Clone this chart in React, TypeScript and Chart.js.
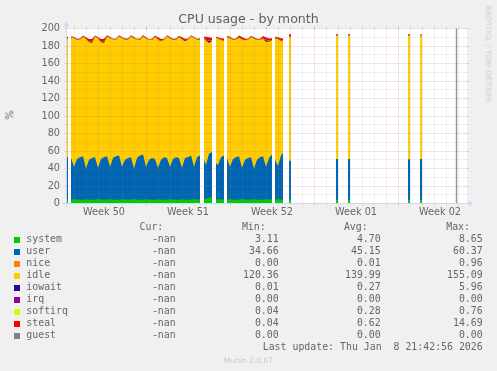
import React, { useEffect, useRef } from 'react';
import { Chart, registerables } from 'chart.js';

Chart.register(...registerables);

// ---------------- data (hours from left edge of the 33-day window; null = no data) ----------------
const HOURS: number[] = [
  0, 2, 5,
  8, 14, 20, 26, 32, 38, 44, 50, 56, 62, 68, 74, 80, 86, 92, 98, 104, 110, 116, 122, 128, 134, 140, 146,
  152, 158, 164, 170, 176, 182, 188, 194, 200, 206, 212, 218, 224, 230, 236, 242, 248, 254, 260, 266, 270,
  274, 278, 284, 290, 294,
  298, 302, 308, 314, 317,
  320, 326, 332, 338, 344, 350, 356, 362, 368, 374, 380, 386, 392, 398, 404, 410, 413,
  416, 422, 428, 432, 439,
  444, 448, 490,
  538, 542, 553,
  562, 566, 620,
  682, 686, 697,
  706, 710,
];

const SYSTEM: (number | null)[] = [
  4.2, 4.2, null,
  4.5, 4.8, 4.6, 4.3, 4.4, 5.0, 4.7, 4.3, 4.5, 5.1, 4.6, 4.4, 4.5, 4.9, 4.6, 4.3, 4.4, 5.0, 4.7, 4.4,
  4.5, 5.2, 4.6, 4.3, 4.5, 4.9, 4.6, 4.4, 4.3, 5.0, 4.6, 4.4, 4.5, 4.8, 4.5, 4.3, 4.4, 5.0, 4.6, 4.4,
  4.5, 4.9, 4.7, 4.6, null,
  4.8, 5.5, 6.5, 7.0, null,
  4.6, 4.8, 4.5, 4.4, null,
  4.5, 5.0, 4.6, 4.4, 4.5, 5.1, 4.7, 4.4, 4.5, 5.0, 4.6, 4.4, 4.5, 4.9, 4.6, 4.7, null,
  4.6, 5.0, 4.6, 4.5, null,
  4.2, 4.2, null,
  4.0, 4.0, null,
  4.1, 4.1, null,
  4.0, 4.0, null,
  4.1, 4.1,
];

const USER: (number | null)[] = [
  48.8, 48.8, null,
  47.5, 37.2, 46.4, 48.7, 49.6, 35.0, 45.3, 47.7, 48.5, 35.9, 46.4, 48.6, 49.5, 37.1, 47.4, 49.7, 50.6, 37.0,
  45.3, 47.6, 48.5, 34.8, 47.4, 50.7, 51.5, 37.1, 45.4, 47.6, 46.7, 36.0, 45.4, 48.6, 47.5, 37.2, 46.5, 48.7,
  47.6, 36.0, 47.4, 48.6, 50.5, 37.1, 48.3, 50.4, null,
  45.2, 38.5, 50.5, 52.0, null,
  41.4, 39.2, 48.5, 50.6, null,
  47.5, 37.0, 46.4, 48.6, 49.5, 35.9, 45.3, 47.6, 48.5, 35.0, 45.4, 48.6, 49.5, 37.1, 47.4, 51.3, null,
  45.4, 38.0, 50.4, 53.5, null,
  44.8, 44.8, null,
  47.0, 47.0, null,
  46.9, 46.9, null,
  46.5, 46.5, null,
  46.9, 46.9,
];

const IDLE: (number | null)[] = [
  134.9, 134.9, null,
  137.5, 147.2, 136.1, 134.3, 136.6, 148.2, 134.2, 131.7, 137.8, 148.0, 133.4, 130.7, 136.9, 147.2, 135.3,
  133.5, 135.9, 147.1, 137.2, 135.4, 137.9, 148.9, 135.3, 132.2, 135.0, 146.7, 136.8, 135.0, 139.5, 146.4,
  135.4, 134.1, 138.8, 146.9, 136.0, 134.2, 138.3, 146.4, 133.8, 134.4, 135.8, 147.1, 134.2, 132.5, null,
  138.8, 142.1, 126.6, 126.6, null,
  143.2, 144.5, 134.0, 131.0, null,
  138.1, 147.2, 136.1, 134.3, 135.4, 146.4, 136.5, 135.2, 137.4, 148.7, 137.0, 134.2, 134.2, 142.9, 133.1, 130.4, null,
  138.9, 145.1, 130.9, 128.2, null,
  141.2, 141.2, null,
  140.8, 140.8, null,
  140.6, 140.6, null,
  141.2, 141.2, null,
  140.6, 140.6,
];

const IOWAIT: (number | null)[] = [
  0.3, 0.3, null,
  0.2, 0.2, 0.2, 0.2, 0.2, 0.3, 0.3, 1.5, 0.2, 0.2, 0.3, 1.5, 0.2, 0.2, 0.2, 0.2, 0.2, 0.2, 0.2, 0.2,
  0.2, 0.2, 0.2, 0.2, 0.2, 0.2, 0.2, 0.2, 0.2, 0.3, 0.3, 0.2, 0.2, 0.2, 0.2, 0.2, 0.2, 0.3, 1.0, 0.2,
  0.2, 0.2, 0.2, 0.2, null,
  0.3, 0.5, 2.0, 0.5, null,
  0.2, 0.2, 0.2, 0.2, null,
  0.2, 0.2, 0.2, 0.2, 0.3, 0.3, 0.2, 0.2, 0.2, 0.2, 0.2, 0.2, 0.5, 1.8, 0.6, 0.3, null,
  0.3, 0.4, 0.8, 0.5, null,
  0.5, 0.5, null,
  0.2, 0.2, null,
  0.2, 0.2, null,
  0.2, 0.2, null,
  0.2, 0.2,
];

const SOFTIRQ: (number | null)[] = [
  0.3, 0.3, null,
  0.3, 0.3, 0.2, 0.3, 0.4, 0.3, 0.3, 0.3, 0.2, 0.3, 0.3, 0.4, 0.3, 0.3, 0.2, 0.3, 0.3, 0.3, 0.4, 0.3,
  0.3, 0.3, 0.2, 0.3, 0.3, 0.3, 0.4, 0.3, 0.3, 0.3, 0.2, 0.3, 0.3, 0.3, 0.3, 0.4, 0.3, 0.3, 0.2, 0.3,
  0.3, 0.3, 0.3, 0.4, null,
  0.4, 0.4, 0.4, 0.4, null,
  0.3, 0.3, 0.3, 0.3, null,
  0.3, 0.3, 0.2, 0.3, 0.3, 0.4, 0.3, 0.3, 0.3, 0.2, 0.3, 0.3, 0.3, 0.4, 0.3, 0.3, null,
  0.3, 0.3, 0.3, 0.3, null,
  0.3, 0.3, null,
  0.3, 0.3, null,
  0.3, 0.3, null,
  0.3, 0.3, null,
  0.3, 0.3,
];

const STEAL: (number | null)[] = [
  2.0, 2.0, null,
  1.0, 0.8, 0.7, 0.7, 0.9, 1.2, 3.2, 2.5, 0.9, 0.8, 3.0, 2.8, 0.9, 0.8, 0.7, 0.7, 1.0, 0.8, 0.7, 0.7,
  0.9, 0.8, 0.7, 0.8, 1.0, 0.8, 0.7, 0.7, 1.0, 2.0, 2.0, 0.7, 0.9, 0.8, 0.7, 0.7, 1.0, 2.0, 1.2, 0.7,
  0.9, 0.8, 0.7, 0.8, null,
  1.5, 3.5, 4.0, 3.0, null,
  0.8, 1.0, 1.5, 2.0, null,
  0.9, 0.8, 0.7, 0.7, 2.0, 2.2, 1.5, 0.7, 0.9, 0.8, 0.7, 0.7, 2.5, 3.0, 2.5, 2.0, null,
  1.0, 1.2, 2.0, 1.5, null,
  2.5, 2.5, null,
  1.2, 1.2, null,
  1.2, 1.2, null,
  1.3, 1.3, null,
  1.1, 1.1,
];

// legend table
const SERIES_NAMES = ['system', 'user', 'nice', 'idle', 'iowait', 'irq', 'softirq', 'steal', 'guest'];
const SERIES_COLORS = ['#00CC00', '#0066B3', '#FF8000', '#FFCC00', '#330099', '#990099', '#CCFF00', '#FF0000', '#808080'];
const CUR = ['-nan', '-nan', '-nan', '-nan', '-nan', '-nan', '-nan', '-nan', '-nan'];
const MIN = ['3.11', '34.66', '0.00', '120.36', '0.01', '0.00', '0.04', '0.04', '0.00'];
const AVG = ['4.70', '45.15', '0.01', '139.99', '0.27', '0.00', '0.28', '0.62', '0.00'];
const MAX = ['8.65', '60.37', '0.96', '155.09', '5.96', '0.00', '0.76', '14.69', '0.00'];

// axes
const WEEK_TICK_HOURS = [74, 242, 410, 578, 746];
const WEEK_LABELS = ['Week 50', 'Week 51', 'Week 52', 'Week 01', 'Week 02'];
const X_MAX_HOURS = 800;
const DAY_GRID_START = 14;
const DAY_HOURS = 24;
const WEEK_GRID_START = 158;
const WEEK_HOURS = 168;
const NOW_MARK_HOUR = 779.4;
const Y_MAX = 200;
const Y_GRID_STEP = 10;
const Y_LABEL_STEP = 20;

const TITLE = 'CPU usage - by month';
const Y_TITLE = '%';
const LAST_UPDATE = 'Last update: Thu Jan  8 21:42:56 2026';
const VERSION = 'Munin 2.0.67';
const WATERMARK = 'RRDTOOL / TOBI OETIKER';

// ---------------- drawing ----------------
const W = 497;
const H = 371;
const MINOR_GRID = 'rgba(143,143,143,0.26)';
const MAJOR_GRID = 'rgba(222,79,79,0.32)';
const AXIS_COLOR = '#CFD6F8';
const FONT = "'DejaVu Sans', sans-serif";
const MONO = "'DejaVu Sans Mono', monospace";
const TEXT = '#666666';

function seg(ctx: CanvasRenderingContext2D, x1: number, y1: number, x2: number, y2: number) {
  ctx.beginPath();
  ctx.moveTo(x1, y1);
  ctx.lineTo(x2, y2);
  ctx.stroke();
}

const muninPlugin = {
  id: 'muninDecor',
  beforeDraw(chart: any) {
    const { ctx, chartArea: a } = chart;
    ctx.save();
    ctx.fillStyle = '#FFFFFF';
    ctx.fillRect(a.left, a.top, a.right - a.left, a.bottom - a.top);
    ctx.restore();
  },
  afterDatasetsDraw(chart: any) {
    const { ctx, chartArea: a, scales } = chart;
    const xs = scales.x;
    const ys = scales.y;
    const L = a.left - 0.5;
    const R = a.right - 0.5;
    const T = a.top;
    const B = a.bottom;
    ctx.save();
    ctx.lineWidth = 1;
    // horizontal grid
    for (let v = Y_GRID_STEP; v <= Y_MAX; v += Y_GRID_STEP) {
      const py = Math.round(ys.getPixelForValue(v) - 0.5) + 0.5;
      ctx.strokeStyle = v % Y_LABEL_STEP === 0 ? MAJOR_GRID : MINOR_GRID;
      ctx.setLineDash([]);
      seg(ctx, L - 2, py, L + 1, py);
      seg(ctx, R - 1, py, R + 2, py);
      ctx.setLineDash([1, 1]);
      seg(ctx, L + 1, py, R - 1, py);
    }
    // vertical grid
    for (let h = DAY_GRID_START; h < X_MAX_HOURS; h += DAY_HOURS) {
      const px = Math.round(xs.getPixelForValue(h) - 0.5) + 0.5;
      const major = (h - WEEK_GRID_START) % WEEK_HOURS === 0;
      ctx.strokeStyle = major ? MAJOR_GRID : MINOR_GRID;
      ctx.setLineDash([]);
      seg(ctx, px, T - 2, px, T + 1);
      seg(ctx, px, B - 1, px, B + 2);
      ctx.setLineDash([1, 1]);
      seg(ctx, px, T + 1, px, B - 1);
    }
    ctx.setLineDash([]);
    // vertical marker
    const mx = Math.floor(xs.getPixelForValue(NOW_MARK_HOUR)) + 0.5;
    ctx.strokeStyle = 'rgba(128,128,128,0.85)';
    ctx.lineWidth = 1.4;
    seg(ctx, mx, T, mx, B);
    // axes
    ctx.lineWidth = 1;
    ctx.strokeStyle = AXIS_COLOR;
    seg(ctx, L - 4, B, R + 4, B);
    seg(ctx, L, B + 4, L, T - 4);
    ctx.fillStyle = AXIS_COLOR;
    ctx.beginPath();
    ctx.moveTo(R + 2, B - 3);
    ctx.lineTo(R + 2, B + 3);
    ctx.lineTo(R + 7, B);
    ctx.closePath();
    ctx.fill();
    ctx.beginPath();
    ctx.moveTo(L - 3, T - 2);
    ctx.lineTo(L + 3, T - 2);
    ctx.lineTo(L, T - 7);
    ctx.closePath();
    ctx.fill();
    ctx.restore();
  },
};

const PLOTTED = [
  { label: 'system', values: SYSTEM, color: SERIES_COLORS[0] },
  { label: 'user', values: USER, color: SERIES_COLORS[1] },
  { label: 'idle', values: IDLE, color: SERIES_COLORS[3] },
  { label: 'iowait', values: IOWAIT, color: SERIES_COLORS[4] },
  { label: 'softirq', values: SOFTIRQ, color: SERIES_COLORS[6] },
  { label: 'steal', values: STEAL, color: SERIES_COLORS[7] },
];

function Txt(props: {
  x: number; b: number; size: number; mono?: boolean; color?: string;
  align?: 'left' | 'right' | 'center'; children: React.ReactNode;
}) {
  const { x, b, size, mono, color = TEXT, align = 'left', children } = props;
  const style: React.CSSProperties = {
    position: 'absolute',
    top: b - 0.846 * size,
    fontSize: size + 'px',
    lineHeight: size + 'px',
    fontFamily: mono ? MONO : FONT,
    color,
    whiteSpace: 'pre',
  };
  if (align === 'left') style.left = x;
  else if (align === 'right') style.right = W - x;
  else {
    style.left = x;
    style.transform = 'translateX(-50%)';
  }
  return <div style={style}>{children}</div>;
}

function Rot(props: { cx: number; cy: number; size: number; deg: number; color: string; children: React.ReactNode }) {
  const { cx, cy, size, deg, color, children } = props;
  return (
    <div
      style={{
        position: 'absolute', left: cx, top: cy, fontSize: size + 'px', lineHeight: size + 'px',
        fontFamily: FONT, color, whiteSpace: 'pre',
        transform: `translate(-50%, -50%) rotate(${deg}deg)`,
      }}
    >
      {children}
    </div>
  );
}

export default function App() {
  const ref = useRef<HTMLCanvasElement | null>(null);

  useEffect(() => {
    const canvas = ref.current;
    if (!canvas) return;
    const chart = new Chart(canvas, {
      type: 'line',
      data: {
        datasets: PLOTTED.map((s) => ({
          label: s.label,
          data: HOURS.map((h, i) => ({ x: h, y: s.values[i] })),
          backgroundColor: s.color,
          borderColor: 'rgba(0,0,0,0)',
          borderWidth: 0,
          pointRadius: 0,
          pointHoverRadius: 0,
          fill: 'origin',
          tension: 0,
          spanGaps: false,
        })),
      },
      options: {
        responsive: false,
        animation: false,
        devicePixelRatio: 1,
        events: [],
        layout: { padding: { top: 28.5, right: 30, bottom: 0, left: 0 } },
        plugins: { legend: { display: false }, title: { display: false }, tooltip: { enabled: false } },
        scales: {
          x: {
            type: 'linear',
            min: 0,
            max: X_MAX_HOURS,
            grid: { display: false, drawTicks: false },
            border: { display: false },
            afterBuildTicks: (s: any) => {
              s.ticks = WEEK_TICK_HOURS.map((v) => ({ value: v }));
            },
            afterFit: (s: any) => {
              s.height = H - 203.5;
            },
            ticks: {
              autoSkip: false,
              maxRotation: 0,
              padding: 3.3,
              color: TEXT,
              font: { family: FONT, size: 9.7 },
              callback: (v: any) => WEEK_LABELS[WEEK_TICK_HOURS.indexOf(Number(v))] ?? '',
            },
          },
          y: {
            stacked: true,
            min: 0,
            max: Y_MAX,
            grid: { display: false, drawTicks: false },
            border: { display: false },
            afterFit: (s: any) => {
              s.width = 67;
            },
            ticks: {
              stepSize: Y_LABEL_STEP,
              padding: 7,
              color: TEXT,
              font: { family: FONT, size: 9.7 },
            },
          },
        },
      },
      plugins: [muninPlugin],
    } as any);
    return () => chart.destroy();
  }, []);

  const rowBase = 242.2;
  const rowStep = 12;

  return (
    <div
      style={{
        position: 'fixed', left: 0, top: 0, width: W, height: H, background: '#F0F0F0',
        overflow: 'hidden',
      }}
    >
      <canvas ref={ref} width={W} height={H} style={{ position: 'absolute', left: 0, top: 0, width: W, height: H }} />
      <Txt x={248.5} b={23.3} size={12.6} align="center" color="#606060">{TITLE}</Txt>
      <Rot cx={10.3} cy={114.7} size={9.7} deg={-90} color={TEXT}>{Y_TITLE}</Rot>
      <Rot cx={488.3} cy={53.5} size={7.5} deg={90} color="#CCCCCC">{WATERMARK}</Rot>

      <Txt x={163.3} b={rowBase - rowStep} size={9.9} mono align="right">Cur:</Txt>
      <Txt x={265.7} b={rowBase - rowStep} size={9.9} mono align="right">Min:</Txt>
      <Txt x={367.7} b={rowBase - rowStep} size={9.9} mono align="right">Avg:</Txt>
      <Txt x={470} b={rowBase - rowStep} size={9.9} mono align="right">Max:</Txt>

      {SERIES_NAMES.map((name, i) => {
        const b = rowBase + rowStep * i;
        return (
          <React.Fragment key={name}>
            <div style={{ position: 'absolute', left: 14, top: b - 5.5, width: 6, height: 6, background: SERIES_COLORS[i] }} />
            <Txt x={26.3} b={b} size={9.9} mono>{name}</Txt>
            <Txt x={175.7} b={b} size={9.9} mono align="right">{CUR[i]}</Txt>
            <Txt x={278.7} b={b} size={9.9} mono align="right">{MIN[i]}</Txt>
            <Txt x={380.7} b={b} size={9.9} mono align="right">{AVG[i]}</Txt>
            <Txt x={482.7} b={b} size={9.9} mono align="right">{MAX[i]}</Txt>
          </React.Fragment>
        );
      })}
      <Txt x={482.7} b={rowBase + rowStep * 9} size={9.9} mono align="right">{LAST_UPDATE}</Txt>
      <Txt x={248.5} b={363} size={7.5} align="center" color="#C8C8C8">{VERSION}</Txt>
    </div>
  );
}
